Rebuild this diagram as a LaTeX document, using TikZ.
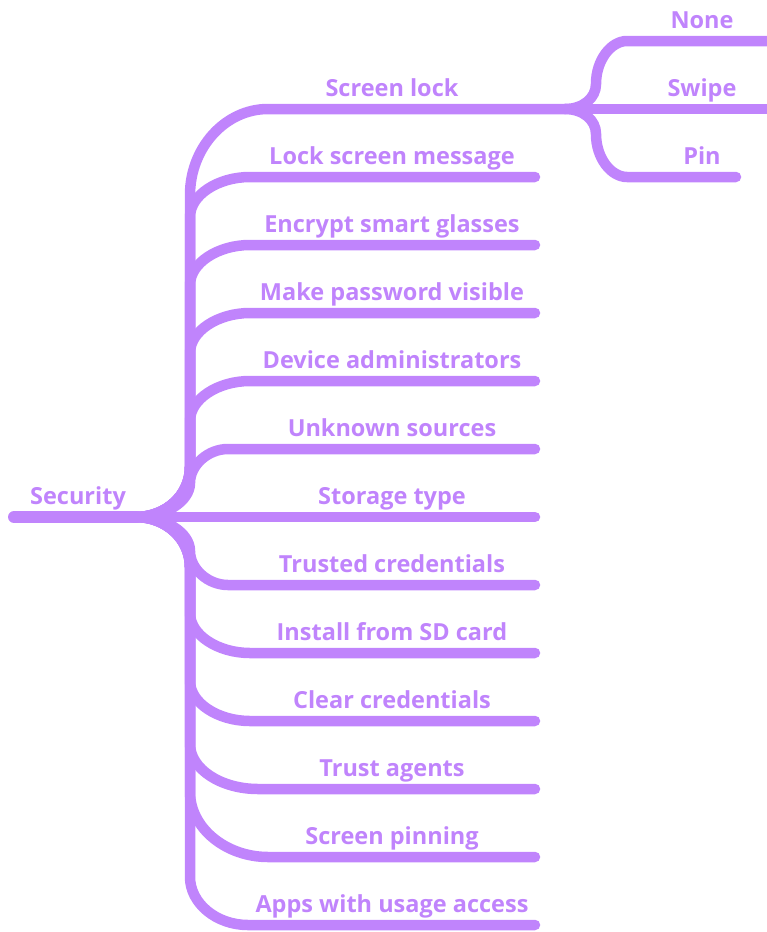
\documentclass[tikz,border=0pt]{standalone}
\usepackage{fontspec}
\setmainfont{Open Sans}
\usetikzlibrary{positioning}
\definecolor{mmpurple}{HTML}{C084FC}
\tikzset{
  branch/.style={draw=mmpurple, line width=10.5pt, line cap=round},
  trunk/.style={branch, line width=12pt},
  lbl/.style={text=mmpurple, font=\bfseries\fontsize{23.5}{27}\selectfont, anchor=base, inner sep=0pt}
}

\begin{document}
\begin{tikzpicture}[x=1pt,y=-1pt]
\useasboundingbox (0,0) rectangle (767,932);
\clip (0,0) rectangle (767,932);

% labels
\node[lbl] (security) at (78,504) {Security};
\node[lbl] (screenlock) at (392,96) {Screen lock};
\node[lbl] (lockmsg) at (392,164) {Lock screen message};
\node[lbl] (encrypt) at (392,232) {Encrypt smart glasses};
\node[lbl] (password) at (392,300) {Make password visible};
\node[lbl] (devadmin) at (392,368) {Device administrators};
\node[lbl] (unknown) at (392,436) {Unknown sources};
\node[lbl] (storage) at (392,504) {Storage type};
\node[lbl] (trusted) at (392,572) {Trusted credentials};
\node[lbl] (installsd) at (392,640) {Install from SD card};
\node[lbl] (clearcred) at (392,708) {Clear credentials};
\node[lbl] (trustagents) at (392,776) {Trust agents};
\node[lbl] (pinning) at (392,844) {Screen pinning};
\node[lbl] (usage) at (392,912) {Apps with usage access};
\node[lbl] (none) at (702,28) {None};
\node[lbl] (swipe) at (702,96) {Swipe};
\node[lbl] (pin) at (702,164) {Pin};

% branch points
\coordinate (root) at (14,517);
\coordinate (fork) at (136,517);
\coordinate (up) at (190,467);
\coordinate (down) at (190,567);
\coordinate (lockfork) at (565,109);

\coordinate (e1) at (565,109);
\coordinate (e2) at (535,177);
\coordinate (e3) at (535,245);
\coordinate (e4) at (535,313);
\coordinate (e5) at (535,381);
\coordinate (e6) at (535,449);
\coordinate (e7) at (535,517);
\coordinate (e8) at (535,585);
\coordinate (e9) at (535,653);
\coordinate (e10) at (535,721);
\coordinate (e11) at (535,789);
\coordinate (e12) at (535,857);
\coordinate (e13) at (535,925);

\coordinate (en) at (780,41);
\coordinate (es) at (780,109);
\coordinate (ep) at (736,177);

\draw[trunk] (root) -- (fork);

% upper branches
\draw[branch] (fork) .. controls +(30,0) and +(0,28) .. (up) -- (190,195)
  .. controls +(0,-47) and +(-43,0) .. (268,109) -- (e1);
\draw[branch] (fork) .. controls +(30,0) and +(0,28) .. (up) -- (190,217)
  .. controls +(0,-22) and +(-32,0) .. (250,177) -- (e2);
\draw[branch] (fork) .. controls +(30,0) and +(0,28) .. (up) -- (190,285)
  .. controls +(0,-22) and +(-32,0) .. (250,245) -- (e3);
\draw[branch] (fork) .. controls +(30,0) and +(0,28) .. (up) -- (190,353)
  .. controls +(0,-22) and +(-32,0) .. (250,313) -- (e4);
\draw[branch] (fork) .. controls +(30,0) and +(0,28) .. (up) -- (190,421)
  .. controls +(0,-22) and +(-32,0) .. (250,381) -- (e5);
\draw[branch] (fork) .. controls +(30,0) and +(0,18) .. (190,483)
  .. controls +(0,-18) and +(-20,0) .. (228,449) -- (e6);
\draw[branch] (fork) -- (e7);

% lower branches
\draw[branch] (fork) .. controls +(30,0) and +(0,-18) .. (190,551)
  .. controls +(0,18) and +(-20,0) .. (228,585) -- (e8);
\draw[branch] (fork) .. controls +(30,0) and +(0,-28) .. (down) -- (190,613)
  .. controls +(0,22) and +(-32,0) .. (250,653) -- (e9);
\draw[branch] (fork) .. controls +(30,0) and +(0,-28) .. (down) -- (190,681)
  .. controls +(0,22) and +(-32,0) .. (250,721) -- (e10);
\draw[branch] (fork) .. controls +(30,0) and +(0,-28) .. (down) -- (190,744)
  .. controls +(0,25) and +(-37,0) .. (258,789) -- (e11);
\draw[branch] (fork) .. controls +(30,0) and +(0,-28) .. (down) -- (190,792)
  .. controls +(0,36) and +(-42,0) .. (268,857) -- (e12);
\draw[branch] (fork) .. controls +(30,0) and +(0,-28) .. (down) -- (190,877)
  .. controls +(0,26) and +(-32,0) .. (248,925) -- (e13);

% screen lock options
\draw[branch] (lockfork) .. controls +(18,0) and +(0,14) .. (596,84)
  .. controls +(0,-24) and +(-16,0) .. (627,41) -- (en);
\draw[branch] (lockfork) -- (es);
\draw[branch] (lockfork) .. controls +(18,0) and +(0,-14) .. (596,134)
  .. controls +(0,24) and +(-16,0) .. (627,177) -- (ep);
\end{tikzpicture}
\end{document}
